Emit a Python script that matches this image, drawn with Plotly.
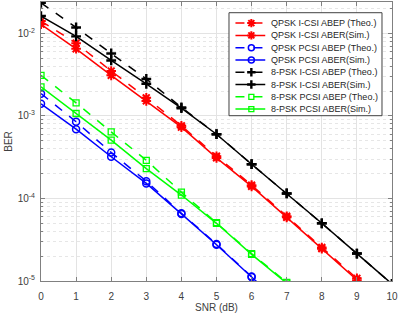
import plotly.graph_objects as go

snr = [0, 1, 2, 3, 4, 5, 6, 7, 8, 9, 10]

qpsk_icsi_theo = [0.0141, 0.0076, 0.0035, 0.00166, 7.6e-4, 3.25e-4, 1.45e-4, 6.1e-5, 2.55e-5, 1.08e-5, 4.5e-6]
qpsk_icsi_sim = [0.0129, 0.0065, 0.0031, 0.00152, 7.3e-4, 3.1e-4, 1.4e-4, 5.9e-5, 2.46e-5, 1.02e-5, 4.3e-6]
qpsk_pcsi_theo = [0.00186, 8.5e-4, 3.6e-4, 1.62e-4, 6.6e-5, 2.8e-5, 1.13e-5, 4.6e-6]
qpsk_pcsi_sim = [0.0014, 6.9e-4, 3.2e-4, 1.52e-4, 6.5e-5, 2.75e-5, 1.12e-5, 4.5e-6]
psk8_icsi_theo = [0.0234, 0.0118, 0.0057, 0.0028, 0.00127, 6.0e-4, 2.6e-4, 1.15e-4, 5.0e-5, 2.15e-5, 9.2e-6]
psk8_icsi_sim = [0.0162, 0.0092, 0.0047, 0.00245, 0.00124, 6.0e-4, 2.6e-4, 1.15e-4, 5.0e-5, 2.15e-5, 9.2e-6]
psk8_pcsi_theo = [0.0031, 0.00144, 6.4e-4, 2.9e-4, 1.19e-4, 5.1e-5, 2.15e-5, 9.6e-6]
psk8_pcsi_sim = [0.00225, 0.00107, 5.1e-4, 2.3e-4, 1.1e-4, 5.0e-5, 2.1e-5, 9.4e-6]

names = [
    "QPSK I-CSI ABEP (Theo.)", "QPSK I-CSI ABER(Sim.)",
    "QPSK PCSI ABEP (Theo.)", "QPSK PCSI ABER(Sim.)",
    "8-PSK I-CSI ABEP (Theo.)", "8-PSK I-CSI ABER(Sim.)",
    "8-PSK PCSI ABEP (Theo.)", "8-PSK PCSI ABER(Sim.)",
]
series = [qpsk_icsi_theo, qpsk_icsi_sim, qpsk_pcsi_theo, qpsk_pcsi_sim,
          psk8_icsi_theo, psk8_icsi_sim, psk8_pcsi_theo, psk8_pcsi_sim]
colors = ["#ff0000", "#ff0000", "#0000ff", "#0000ff", "#000000", "#000000", "#00ff00", "#00ff00"]
symbols = ["asterisk-open", "asterisk-open", "circle-open", "circle-open",
           "cross-thin-open", "cross-thin-open", "square-open", "square-open"]
dashes = ["dash", "solid"] * 4
sizes = [8, 8, 7, 7, 7, 7, 6, 6]
mwidths = [2.0, 2.0, 1.5, 1.5, 2.4, 2.4, 1.3, 1.3]

fig = go.Figure()
for name, ys, c, s, d, sz, mw in zip(names, series, colors, symbols, dashes, sizes, mwidths):
    fig.add_trace(go.Scatter(
        x=snr[:len(ys)], y=ys, name=name, mode="lines+markers", showlegend=False,
        line=dict(color=c, width=1.5, dash=d),
        marker=dict(symbol=s, size=sz, color=c, line=dict(color=c, width=mw)),
        xaxis="x", yaxis="y",
    ))

# ---- custom compact legend (MATLAB style) on an inset subplot ----
LX0, LX1, LY0, LY1 = 0.5356, 0.9715, 0.5925, 0.9616   # legend box, fraction of plot area
LW, LH = 153, 103          # legend box size in pixel-like units
row0, rowgap = 10.0, 12.4
fig.add_trace(go.Scatter(
    x=[0, LW, LW, 0, 0], y=[0, 0, LH, LH, 0], mode="lines", fill="toself",
    fillcolor="white", line=dict(color="white", width=0),
    showlegend=False, hoverinfo="skip", xaxis="x2", yaxis="y2",
))
for i, (name, c, s, d, sz, mw) in enumerate(zip(names, colors, symbols, dashes, sizes, mwidths)):
    yy = row0 + i * rowgap
    fig.add_trace(go.Scatter(
        x=[6, 36], y=[yy, yy], mode="lines", line=dict(color=c, width=1.5, dash=d),
        showlegend=False, hoverinfo="skip", xaxis="x2", yaxis="y2",
    ))
    fig.add_trace(go.Scatter(
        x=[22], y=[yy], mode="markers",
        marker=dict(symbol=s, size=max(sz - 1, 5), color=c, line=dict(color=c, width=mw)),
        showlegend=False, hoverinfo="skip", xaxis="x2", yaxis="y2",
    ))
    fig.add_annotation(
        x=40, y=yy, xref="x2", yref="y2", text=name, showarrow=False,
        xanchor="left", yanchor="middle",
        font=dict(family="Liberation Sans, Arial", size=9, color="#262626"),
    )
fig.add_shape(type="rect", xref="paper", yref="paper", x0=LX0, x1=LX1, y0=LY0, y1=LY1,
              line=dict(color="#404040", width=1), fillcolor="rgba(0,0,0,0)", layer="above")

axis_common = dict(
    showline=True, linecolor="#808080", linewidth=1, mirror="allticks",
    ticks="inside", ticklen=4, tickcolor="#808080", automargin=False,
    showgrid=True, gridcolor="#e3e3e3", gridwidth=1,
    zeroline=False, tickfont=dict(family="Liberation Sans, Arial", size=10, color="#404040"),
)

fig.update_layout(
    width=403, height=317,
    margin=dict(l=41, r=11, t=2, b=36),
    paper_bgcolor="white", plot_bgcolor="white",
    font=dict(family="Liberation Sans, Arial", size=10, color="#404040"),
    showlegend=False,
    xaxis=dict(
        range=[0, 10], dtick=1, tick0=0, domain=[0, 1], ticklabelstandoff=6,
        title=dict(text="SNR (dB)", font=dict(size=10, color="#404040"), standoff=2),
        **axis_common,
    ),
    yaxis=dict(
        type="log", range=[-5, -1.62], domain=[0, 1], ticklabelstandoff=3,
        tickvals=[1e-5, 1e-4, 1e-3, 1e-2],
        ticktext=["10<sup>-5</sup>", "10<sup>-4</sup>", "10<sup>-3</sup>", "10<sup>-2</sup>"],
        title=dict(text="BER", font=dict(size=10, color="#404040"), standoff=3),
        minor=dict(showgrid=True, gridcolor="#e6e6e6", griddash="dot", dtick="D1",
                   ticks="inside", ticklen=2, tickcolor="#808080"),
        **axis_common,
    ),
    xaxis2=dict(domain=[LX0, LX1], range=[-0.5, LW + 0.5], visible=False,
                fixedrange=True, anchor="y2"),
    yaxis2=dict(domain=[LY0, LY1], range=[LH + 0.5, -0.5], visible=False,
                fixedrange=True, anchor="x2"),
)

fig.write_html("out.html", config={"displayModeBar": False},
               post_script="document.body.style.margin='0';document.body.style.padding='0';")
